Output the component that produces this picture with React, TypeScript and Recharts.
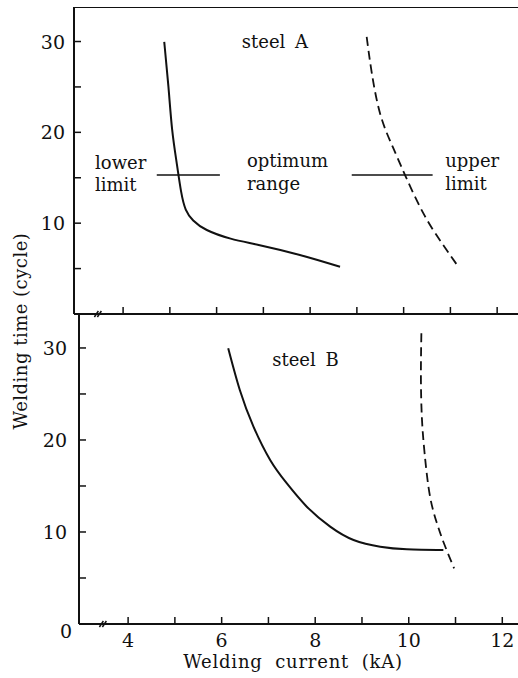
import React from 'react';
import { LineChart, Line, XAxis, YAxis, ReferenceLine, ReferenceDot } from 'recharts';

// ---- data ----
const xTicks = [4, 5, 6, 7, 8, 9, 10, 11, 12];
const xTickLabels = [4, 6, 8, 10, 12];
const yTicks = [0, 5, 10, 15, 20, 25, 30];
const yTickLabels = [10, 20, 30];

// steel A, lower limit (solid)
const steelALower = [
  { x: 4.88, y: 29.96 },
  { x: 4.97, y: 25.0 },
  { x: 5.05, y: 20.26 },
  { x: 5.15, y: 16.5 },
  { x: 5.24, y: 13.5 },
  { x: 5.34, y: 11.5 },
  { x: 5.5, y: 10.3 },
  { x: 5.79, y: 9.25 },
  { x: 6.3, y: 8.3 },
  { x: 6.9, y: 7.6 },
  { x: 7.78, y: 6.5 },
  { x: 8.64, y: 5.2 },
];
// steel A, upper limit (dashed)
const steelAUpper = [
  { x: 9.21, y: 30.5 },
  { x: 9.32, y: 26.5 },
  { x: 9.5, y: 22.0 },
  { x: 9.75, y: 18.6 },
  { x: 10.03, y: 15.3 },
  { x: 10.42, y: 11.1 },
  { x: 10.82, y: 7.79 },
  { x: 11.17, y: 5.2 },
];
// steel B, lower limit (solid)
const steelBLower = [
  { x: 6.14, y: 29.97 },
  { x: 6.39, y: 25.4 },
  { x: 6.68, y: 21.45 },
  { x: 7.04, y: 17.8 },
  { x: 7.39, y: 15.3 },
  { x: 7.82, y: 12.75 },
  { x: 8.32, y: 10.58 },
  { x: 8.82, y: 9.13 },
  { x: 9.39, y: 8.4 },
  { x: 9.96, y: 8.12 },
  { x: 10.74, y: 8.04 },
];
// steel B, upper limit (dashed)
const steelBUpper = [
  { x: 10.27, y: 31.6 },
  { x: 10.26, y: 27.0 },
  { x: 10.28, y: 22.5 },
  { x: 10.34, y: 18.5 },
  { x: 10.45, y: 14.0 },
  { x: 10.6, y: 11.0 },
  { x: 10.75, y: 8.8 },
  { x: 10.97, y: 6.05 },
];

const limitLevel = 15.3;
const lowerLimitSpan = [4.72, 6.07];
const upperLimitSpan = [8.89, 10.62];
const axisBreakAt = 3.45;

const annotationsA = [
  { x: 6.54, y: 30.0, text: 'steel A' },
  { x: 3.4, y: 16.7, text: 'lower' },
  { x: 3.4, y: 14.3, text: 'limit' },
  { x: 6.65, y: 16.85, text: 'optimum' },
  { x: 6.65, y: 14.4, text: 'range' },
  { x: 10.89, y: 16.85, text: 'upper' },
  { x: 10.89, y: 14.4, text: 'limit' },
];
const annotationsB = [{ x: 7.08, y: 28.7, text: 'steel B' }];

const xDomainTop = [2.95, 12.51];
const xDomainBottom = [2.95, 12.4];
const yDomain = [0, 33.8];

// ---- styles ----
const FONT = "'DejaVu Serif', 'Liberation Serif', serif";
const INK = '#111';
const FS = 18;

const makeYTick = (labels: number[], zeroShift: boolean) => (props: any) => {
  const { x, y, payload } = props;
  const v = payload.value;
  if (!labels.includes(v) && !(zeroShift && v === 0)) return <g />;
  const dx = v === 0 ? 5 : 0;
  const dy = v === 0 ? 7 : 0;
  return (
    <text
      x={x + dx}
      y={y + dy}
      textAnchor="end"
      dominantBaseline="central"
      style={{ fontFamily: FONT }}
      fontSize={FS + 1}
      fill={INK}
    >
      {v}
    </text>
  );
};

const makeAnnotation = (text: string) => (p: any) => (
  <text
    x={p.cx}
    y={p.cy}
    textAnchor="start"
    dominantBaseline="central"
    style={{ fontFamily: FONT }}
    fontSize={FS}
    fill={INK}
    wordSpacing={4}
  >
    {text}
  </text>
);

const breakShape = (p: any) => (
  <path
    d={`M${p.cx - 3},${p.cy + 3} L${p.cx + 1},${p.cy - 3} M${p.cx},${p.cy + 3} L${p.cx + 4},${p.cy - 3}`}
    stroke={INK}
    strokeWidth={1.5}
    fill="none"
  />
);

const axisLine = { stroke: INK, strokeWidth: 2 };
const tickLine = { stroke: INK, strokeWidth: 1.5 };

export default function App() {
  return (
    <div
      style={{
        position: 'absolute',
        left: 0,
        top: 0,
        width: 518,
        height: 678,
        overflow: 'hidden',
        background: '#fff',
        fontFamily: FONT,
      }}
    >
      {/* bottom panel: steel B */}
      <div style={{ position: 'absolute', left: 0, top: 313 }}>
        <LineChart width={521} height={369} margin={{ top: 0, right: 0, bottom: 0, left: 0 }}>
          <XAxis
            type="number"
            dataKey="x"
            domain={xDomainBottom}
            allowDataOverflow
            ticks={xTicks}
            interval={0}
            height={58}
            tickSize={-7}
            tickMargin={17}
            axisLine={axisLine}
            tickLine={tickLine}
            tick={{ fontSize: FS + 1, fill: INK, style: { fontFamily: FONT } }}
            tickFormatter={(v: number) => (xTickLabels.includes(v) ? String(v) : '')}
          />
          <YAxis
            type="number"
            dataKey="y"
            domain={yDomain}
            allowDataOverflow
            ticks={yTicks}
            interval={0}
            width={79}
            tickSize={-7}
            tickMargin={19}
            axisLine={axisLine}
            tickLine={tickLine}
            tick={makeYTick(yTickLabels, true)}
          />
          <Line data={steelBLower} dataKey="y" type="natural" stroke={INK} strokeWidth={2} dot={false} isAnimationActive={false} />
          <Line data={steelBUpper} dataKey="y" type="natural" stroke={INK} strokeWidth={1.8} strokeDasharray="9 5" dot={false} isAnimationActive={false} />
          <ReferenceDot x={axisBreakAt} y={0} shape={breakShape} />
          {annotationsB.map((a, i) => (
            <ReferenceDot key={i} x={a.x} y={a.y} shape={makeAnnotation(a.text)} />
          ))}
        </LineChart>
      </div>

      {/* top panel: steel A */}
      <div style={{ position: 'absolute', left: -5, top: 7 }}>
        <LineChart width={526} height={317} margin={{ top: 0, right: 0, bottom: 0, left: 0 }}>
          <XAxis
            type="number"
            dataKey="x"
            domain={xDomainTop}
            allowDataOverflow
            ticks={xTicks}
            interval={0}
            height={10}
            tickSize={-7}
            axisLine={axisLine}
            tickLine={tickLine}
            tickFormatter={() => ''}
          />
          <YAxis
            type="number"
            dataKey="y"
            domain={yDomain}
            allowDataOverflow
            ticks={yTicks}
            interval={0}
            width={79}
            tickSize={-7}
            tickMargin={16}
            axisLine={axisLine}
            tickLine={tickLine}
            tick={makeYTick(yTickLabels, false)}
          />
          <ReferenceLine y={yDomain[1]} stroke={INK} strokeWidth={2} />
          <ReferenceLine
            segment={[{ x: lowerLimitSpan[0], y: limitLevel }, { x: lowerLimitSpan[1], y: limitLevel }]}
            stroke={INK}
            strokeWidth={1.5}
          />
          <ReferenceLine
            segment={[{ x: upperLimitSpan[0], y: limitLevel }, { x: upperLimitSpan[1], y: limitLevel }]}
            stroke={INK}
            strokeWidth={1.5}
          />
          <Line data={steelALower} dataKey="y" type="natural" stroke={INK} strokeWidth={2} dot={false} isAnimationActive={false} />
          <Line data={steelAUpper} dataKey="y" type="natural" stroke={INK} strokeWidth={1.8} strokeDasharray="9 5" dot={false} isAnimationActive={false} />
          <ReferenceDot x={axisBreakAt} y={0} shape={breakShape} />
          {annotationsA.map((a, i) => (
            <ReferenceDot key={i} x={a.x} y={a.y} shape={makeAnnotation(a.text)} />
          ))}
        </LineChart>
      </div>

      {/* axis titles */}
      <svg width={518} height={678} style={{ position: 'absolute', left: 0, top: 0, pointerEvents: 'none' }}>
        <text
          x={20}
          y={331}
          transform="rotate(-90 20 331)"
          textAnchor="middle"
          dominantBaseline="central"
          style={{ fontFamily: FONT }}
          fontSize={FS}
          fill={INK}
          letterSpacing={0.5}
        >
          Welding time (cycle)
        </text>
        <text
          x={293}
          y={668}
          textAnchor="middle"
          style={{ fontFamily: FONT }}
          fontSize={FS}
          fill={INK}
          letterSpacing={0.8}
          wordSpacing={6}
        >
          Welding current (kA)
        </text>
      </svg>
    </div>
  );
}
